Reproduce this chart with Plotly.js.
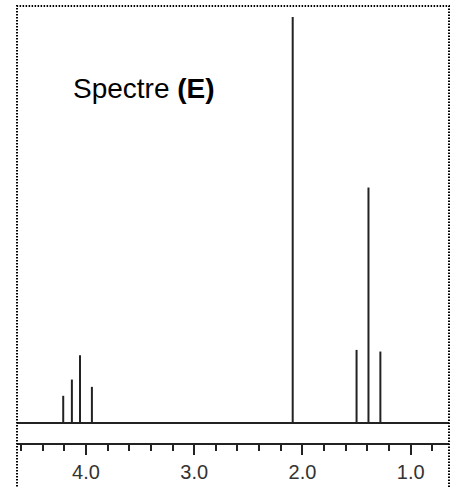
<!DOCTYPE html>
<html>
<head>
<meta charset="utf-8">
<script src="https://cdn.plot.ly/plotly-3.0.1.min.js"></script>
<style>html,body{margin:0;padding:0;background:#fff;}#chart{width:454px;height:488px;}</style>
</head>
<body>
<div id="chart"></div>
<script>
// Chemical shifts (ppm) and relative intensities
var shifts = [4.21, 4.13, 4.055, 3.945, 2.09, 1.50, 1.39, 1.28];
var intensities = [6.7, 10.7, 16.7, 8.9, 100, 18.0, 58.0, 17.6];
var tickVals = [4.0, 3.0, 2.0, 1.0];
var tickText = ["4.0", "3.0", "2.0", "1.0"];
var titleText = "Spectre <b>(E)</b>";

var xs = [], ys = [];
for (var i = 0; i < shifts.length; i++) {
  xs.push(shifts[i], shifts[i], null);
  ys.push(0, intensities[i], null);
}

var traces = [{
  type: 'scatter', mode: 'lines', x: xs, y: ys,
  line: {color: '#222', width: 2}, hoverinfo: 'skip', showlegend: false
}];

var layout = {
  width: 454, height: 488,
  margin: {l: 17, r: 5, t: 6, b: 45, pad: 0},
  paper_bgcolor: '#fff', plot_bgcolor: '#fff',
  showlegend: false,
  font: {family: 'Liberation Sans, Arial, sans-serif', color: '#222'},
  xaxis: {
    range: [4.637, 0.646], autorange: false,
    tickvals: tickVals, ticktext: tickText,
    ticks: 'outside', ticklen: 10, tickwidth: 2, tickcolor: '#222',
    minor: {dtick: 0.2, tick0: 0, ticks: 'outside', ticklen: 6, tickwidth: 2, tickcolor: '#222', showgrid: false},
    showline: true, linewidth: 2, linecolor: '#222',
    showgrid: false, zeroline: false,
    tickfont: {size: 20, color: '#333', family: 'Liberation Sans, Arial, sans-serif'}
  },
  yaxis: {
    range: [-4.926, 102.71], autorange: false,
    visible: false, showgrid: false, zeroline: false
  },
  shapes: [
    {type: 'line', xref: 'paper', yref: 'y', x0: 0, x1: 1, y0: 0, y1: 0,
     line: {color: '#222', width: 2}},
    {type: 'rect', xref: 'paper', yref: 'paper', x0: 0, x1: 1, y0: -0.3, y1: 1,
     line: {color: '#000', width: 2, dash: '1.5px,1.5px'}, layer: 'above'}
  ],
  annotations: [{
    xref: 'paper', yref: 'paper', x: 0.125, y: 0.812,
    xanchor: 'left', yanchor: 'middle', showarrow: false,
    text: titleText,
    font: {size: 28, color: '#000', family: 'Liberation Sans, Arial, sans-serif'}
  }]
};

Plotly.newPlot('chart', traces, layout, {staticPlot: true, displayModeBar: false});
</script>
</body>
</html>
